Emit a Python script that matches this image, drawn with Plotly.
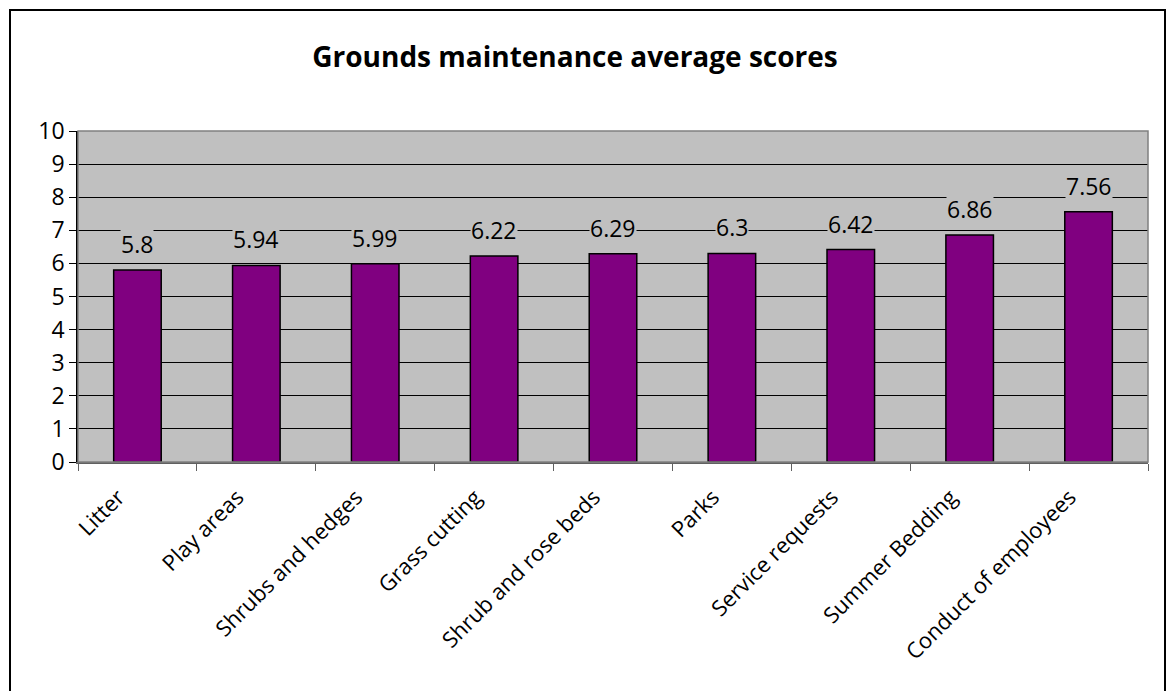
import plotly.graph_objects as go

categories = ["Litter", "Play areas", "Shrubs and hedges", "Grass cutting",
              "Shrub and rose beds", "Parks", "Service requests",
              "Summer Bedding", "Conduct of employees"]
scores = [5.8, 5.94, 5.99, 6.22, 6.29, 6.3, 6.42, 6.86, 7.56]
y_ticks = list(range(0, 11))
title_text = "Grounds maintenance average scores"

W, H = 1171, 691
L, R, T, B = 78, 23, 131, 229
FONT = "Open Sans"

fig = go.Figure()
fig.add_trace(go.Bar(
    x=categories, y=scores,
    marker=dict(color="#800080", line=dict(color="#000000", width=1.5)),
    hoverinfo="x+y",
))

for c, v in zip(categories, scores):
    fig.add_annotation(x=c, y=v, text=str(v), showarrow=False, yshift=26,
                       font=dict(family=FONT, size=23, color="#000000"),
                       bgcolor="#C0C0C0", borderpad=0)

pw, ph = W - L - R, H - T - B
# outer frame
fig.add_shape(type="rect", xref="paper", yref="paper",
              x0=(10 - L) / pw, x1=(1165 - L) / pw,
              y0=(H - B - 720) / ph, y1=(H - B - 10) / ph,
              line=dict(color="#000000", width=2), layer="below")
# plot-area border
fig.add_shape(type="rect", xref="paper", yref="paper", x0=0, x1=1, y0=0, y1=1,
              line=dict(color="#808080", width=1.5), layer="above")

fig.update_layout(
    width=W, height=H,
    margin=dict(l=L, r=R, t=T, b=B),
    paper_bgcolor="#FFFFFF", plot_bgcolor="#C0C0C0",
    bargap=0.6, showlegend=False,
    title=dict(text="<b>" + title_text + "</b>", x=575 / W, xanchor="center",
               y=1 - 57 / H, yanchor="middle",
               font=dict(family=FONT, size=28, color="#000000")),
    font=dict(family=FONT, size=22, color="#000000"),
)
fig.update_yaxes(range=[0, 10], tickvals=y_ticks, showgrid=True,
                 gridcolor="#000000", gridwidth=1, showline=True,
                 linecolor="#000000", linewidth=1.5, ticks="outside",
                 ticklen=7, tickcolor="#000000", zeroline=False,
                 tickfont=dict(family=FONT, size=23))
fig.update_xaxes(tickangle=-45, showline=True, linecolor="#606060",
                 linewidth=1.5, ticks="outside", tickson="boundaries",
                 ticklen=7, tickcolor="#606060", showgrid=False,
                 ticklabelstandoff=12, ticklabelshift=-19,
                 tickfont=dict(family=FONT, size=22))

fig.write_html("out.html")
